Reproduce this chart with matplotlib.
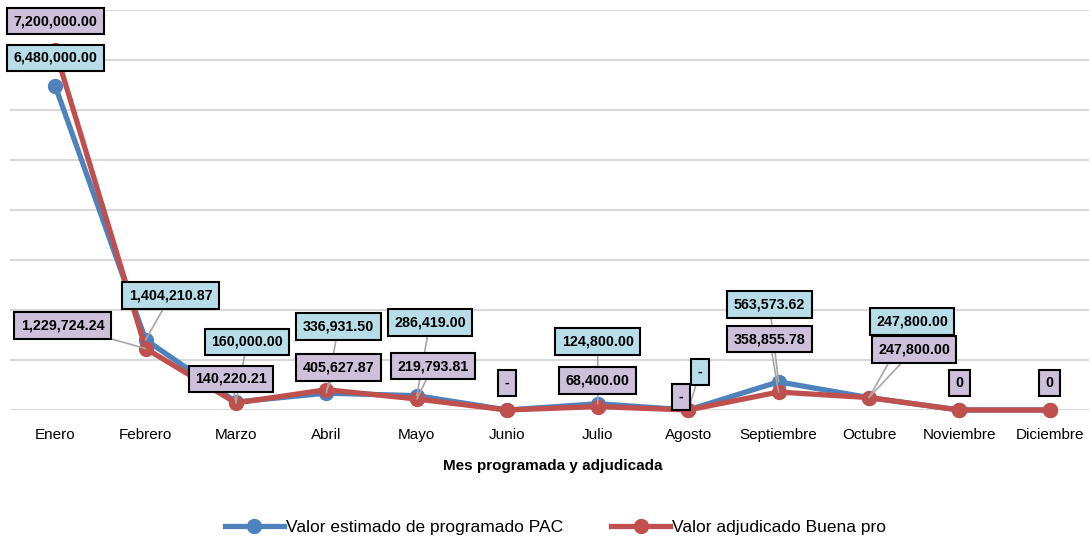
import matplotlib.pyplot as plt
import matplotlib.font_manager as fm

# data
meses = ['Enero', 'Febrero', 'Marzo', 'Abril', 'Mayo', 'Junio', 'Julio',
         'Agosto', 'Septiembre', 'Octubre', 'Noviembre', 'Diciembre']
pac = [6480000.00, 1404210.87, 160000.00, 336931.50, 286419.00, 0, 124800.00,
       0, 563573.62, 247800.00, 0, 0]
buena_pro = [7200000.00, 1229724.24, 140220.21, 405627.87, 219793.81, 0, 68400.00,
             0, 358855.78, 247800.00, 0, 0]
pac_labels = ['6,480,000.00', '1,404,210.87', '160,000.00', '336,931.50', '286,419.00', None,
              '124,800.00', '-', '563,573.62', '247,800.00', None, None]
bp_labels = ['7,200,000.00', '1,229,724.24', '140,220.21', '405,627.87', '219,793.81', '-',
             '68,400.00', '-', '358,855.78', '247,800.00', '0', '0']

# label offsets in pixels (layout) and whether a leader line is drawn
pac_off = [(0, 28), (25, 44), (11, 60), (12, 67), (13, 73), None,
           (0, 62), (12, 38), (-9, 77), (43, 76), None, None]
pac_lead = [False, True, True, True, True, False, True, True, True, True, False, False]
bp_off = [(0, 29), (-83, 23), (-5, 24), (12, 22), (16, 33), (0, 27),
          (0, 26), (-7, 13), (-9, 53), (45, 48), (0, 27), (0, 27)]
bp_lead = [False, True, True, True, True, False, False, False, True, True, False, False]

fams = [f.name for f in fm.fontManager.ttflist]
narrow = 'Liberation Sans Narrow' if 'Liberation Sans Narrow' in fams else 'Liberation Sans'
plt.rcParams['font.family'] = [narrow, 'DejaVu Sans']

blue = '#4F81BD'
red = '#C0504D'

fig = plt.figure(figsize=(10.89, 5.4), dpi=100)
ax = fig.add_axes([10 / 1089, 1 - 410 / 540, 1085 / 1089, 400 / 540])

x = list(range(len(meses)))
ax.plot(x, pac, color=blue, lw=3.8, marker='o', ms=10, label='Valor estimado de programado PAC',
        zorder=3, clip_on=False)
ax.plot(x, buena_pro, color=red, lw=3.8, marker='o', ms=10, label='Valor adjudicado Buena pro',
        zorder=4, clip_on=False)

ax.set_xlim(-0.5, 11.5)
ax.set_ylim(0, 8000000)
ax.set_yticks(range(0, 8000001, 1000000))
ax.set_yticklabels([])
ax.tick_params(axis='y', length=0)
ax.tick_params(axis='x', length=0, pad=13, labelsize=11)
ax.set_xticks(x)
ax.set_xticklabels(meses)
ax.grid(axis='y', color='#D9D9D9', lw=1.5)
ax.set_axisbelow(True)
for s in ax.spines.values():
    s.set_visible(False)

ax.set_xlabel('Mes programada y adjudicada', fontsize=11, fontweight='bold', labelpad=12)


def etiqueta(i, val, txt, off, lead, color):
    if txt is None:
        return
    arrow = dict(arrowstyle='-', color='#A6A6A6', lw=1.2, shrinkA=0, shrinkB=0) if lead else None
    ax.annotate(txt, xy=(i, val), xytext=off, textcoords='offset pixels',
                ha='center', va='center', fontsize=10.3, fontweight='bold',
                bbox=dict(boxstyle='square,pad=0.45', fc=color, ec='black', lw=1.5),
                arrowprops=arrow, zorder=6)


for i in x:
    etiqueta(i, pac[i], pac_labels[i], pac_off[i], pac_lead[i], '#B7DEE8')
    etiqueta(i, buena_pro[i], bp_labels[i], bp_off[i], bp_lead[i], '#CCC0DA')

leg = fig.legend(loc='center', bbox_to_anchor=(0.51, 1 - 527 / 540), ncol=2, frameon=False,
                 fontsize=12.5, handlelength=3.4, columnspacing=2.8, handletextpad=0.1)

fig.savefig('out.png', dpi=100)
